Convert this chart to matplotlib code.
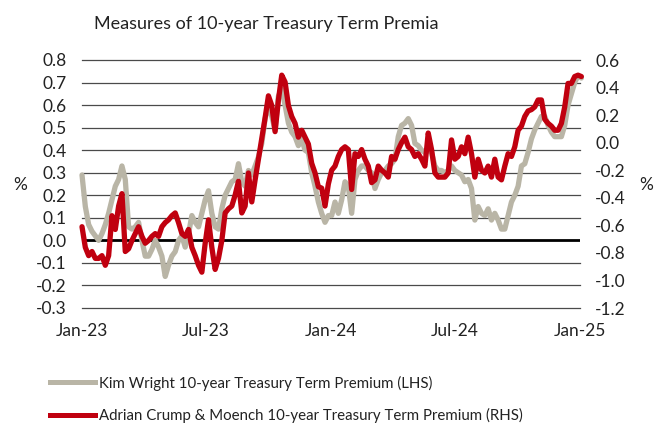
import matplotlib
matplotlib.use("Agg")
import matplotlib.pyplot as plt
import matplotlib.dates as mdates
from matplotlib.lines import Line2D
import pandas as pd
import numpy as np

plt.rcParams['font.family'] = ['Lato', 'DejaVu Sans']

title = "Measures of 10-year Treasury Term Premia"
label_kw = "Kim Wright 10-year Treasury Term Premium (LHS)"
label_acm = "Adrian Crump & Moench 10-year Treasury Term Premium (RHS)"

# Kim Wright term premium (LHS, %)
kim_wright = [
    0.29, 0.15, 0.07, 0.04, 0.02, 0.00, 0.03, 0.07, 0.12, 0.18,
    0.24, 0.27, 0.33, 0.27, 0.06, 0.05, 0.06, 0.08, 0.00, -0.07,
    -0.07, -0.04, 0.00, -0.03, -0.07, -0.16, -0.11, -0.07, -0.05, 0.00,
    0.02, -0.03, 0.03, 0.11, 0.08, 0.06, 0.12, 0.18, 0.22, 0.12,
    0.06, 0.05, 0.14, 0.20, 0.23, 0.26, 0.27, 0.34, 0.26, 0.24,
    0.31, 0.29, 0.33, 0.37, 0.43, 0.54, 0.60, 0.55, 0.49, 0.64,
    0.67, 0.60, 0.52, 0.48, 0.46, 0.42, 0.45, 0.40, 0.39, 0.30,
    0.24, 0.17, 0.12, 0.08, 0.11,
    0.11, 0.17, 0.12, 0.18, 0.26, 0.24, 0.12, 0.27, 0.31, 0.33,
    0.33, 0.31, 0.30, 0.23, 0.27, 0.30, 0.31, 0.33, 0.34, 0.36,
    0.46, 0.51, 0.52, 0.54, 0.51, 0.43, 0.42, 0.40, 0.39, 0.40,
    0.39, 0.33, 0.31, 0.31, 0.30, 0.31, 0.33, 0.31, 0.30, 0.29,
    0.26, 0.27, 0.23, 0.09, 0.15, 0.12, 0.11, 0.14, 0.09, 0.12,
    0.09, 0.05, 0.05, 0.11, 0.17, 0.20, 0.24, 0.33, 0.34, 0.39,
    0.45, 0.49, 0.52, 0.55, 0.55, 0.51, 0.48, 0.46, 0.46, 0.46,
    0.51, 0.60, 0.65, 0.70, 0.73, 0.72,
]

# ACM term premium (RHS, %)
acm = [
    -0.61, -0.76, -0.82, -0.79, -0.84, -0.84, -0.82, -0.89, -0.82, -0.53,
    -0.63, -0.46, -0.37, -0.79, -0.77, -0.71, -0.66, -0.61, -0.68, -0.73,
    -0.71, -0.68, -0.66, -0.68, -0.61, -0.58, -0.56, -0.53, -0.51, -0.58,
    -0.66, -0.68, -0.63, -0.76, -0.82, -0.89, -0.94, -0.73, -0.56, -0.76,
    -0.92, -0.84, -0.71, -0.51, -0.48, -0.46, -0.38, -0.28, -0.51, -0.46,
    -0.22, -0.43, -0.27, -0.12, 0.03, 0.18, 0.34, 0.27, 0.08, 0.31,
    0.49, 0.44, 0.27, 0.19, 0.14, 0.04, 0.09, 0.04, -0.01, -0.15,
    -0.22, -0.32, -0.33, -0.46, -0.30,
    -0.20, -0.17, -0.10, -0.05, -0.03, -0.05, -0.34, -0.08, -0.10, -0.05,
    -0.12, -0.17, -0.29, -0.27, -0.17, -0.20, -0.22, -0.25, -0.10, -0.12,
    -0.05, 0.00, 0.04, -0.03, -0.05, -0.10, -0.08, -0.12, -0.17, 0.07,
    -0.05, -0.22, -0.25, -0.25, -0.25, -0.22, 0.02, -0.12, -0.10, -0.03,
    -0.08, 0.04, -0.08, -0.25, -0.12, -0.20, -0.22, -0.17, -0.25, -0.12,
    -0.25, -0.27, -0.17, -0.08, -0.10, -0.03, 0.09, 0.12, 0.19, 0.23,
    0.24, 0.26, 0.31, 0.31, 0.17, 0.14, 0.12, 0.09, 0.09, 0.14,
    0.26, 0.43, 0.43, 0.48, 0.49, 0.48,
]

dates = pd.date_range("2023-01-01", "2025-01-03", periods=len(kim_wright))

left_ticks = [0.8, 0.7, 0.6, 0.5, 0.4, 0.3, 0.2, 0.1, 0.0, -0.1, -0.2, -0.3]
right_ticks = [0.6, 0.4, 0.2, 0.0, -0.2, -0.4, -0.6, -0.8, -1.0, -1.2]
x_ticks = ["2023-01-01", "2023-07-01", "2024-01-01", "2024-07-01", "2025-01-01"]

grey = "#B9B5A6"
red = "#C0000F"
text_col = "#222222"

fig = plt.figure(figsize=(6.54, 4.25), dpi=100)
ax = fig.add_axes([82 / 654, 1 - 308 / 425, (580 - 82) / 654, (308 - 60) / 425])
ax2 = ax.twinx()

for s in list(ax.spines.values()) + list(ax2.spines.values()):
    s.set_visible(False)

ax.set_ylim(-0.3, 0.8)
ax2.set_ylim(-1.2, 0.6)
ax.set_xlim(pd.Timestamp("2023-01-01"), pd.Timestamp("2025-01-01"))

for t in left_ticks:
    if abs(t) < 1e-9:
        ax.axhline(t, color="black", lw=2.0, zorder=1)
    else:
        ax.axhline(t, color="#4a4a4a", lw=0.9, zorder=1, clip_on=False)

ax.plot(dates, kim_wright, color=grey, lw=3.8, solid_capstyle="round", zorder=2, clip_on=False)
ax2.plot(dates, acm, color=red, lw=3.8, solid_capstyle="round", zorder=3, clip_on=False)

ax.set_yticks(left_ticks)
ax.set_yticklabels([f"{t:.1f}" for t in left_ticks])
ax2.set_yticks(right_ticks)
ax2.set_yticklabels([f"{t:.1f}" for t in right_ticks])
ax.set_xticks([pd.Timestamp(d) for d in x_ticks])
ax.xaxis.set_major_formatter(mdates.DateFormatter("%b-%y"))

ax.tick_params(axis="both", length=0, labelsize=12.5, colors=text_col, pad=11)
ax2.tick_params(axis="both", length=0, labelsize=12.5, colors=text_col, pad=11)

fig.text(20 / 654, 1 - 185 / 425, "%", fontsize=12.5, color=text_col, ha="center", va="center")
fig.text(646 / 654, 1 - 185 / 425, "%", fontsize=12.5, color=text_col, ha="center", va="center")

fig.text(266 / 654, 1 - 24 / 425, title, fontsize=13, color=text_col, ha="center", va="center")

handles = [Line2D([], [], color=grey, lw=3.6), Line2D([], [], color=red, lw=3.6)]
fig.legend(handles, [label_kw, label_acm], loc="upper left",
           bbox_to_anchor=(36 / 654, 1 - 362 / 425), frameon=False,
           fontsize=10.8, handlelength=3.0, handletextpad=0.3, labelspacing=1.15,
           labelcolor=text_col)

fig.savefig("out.png", dpi=100)
